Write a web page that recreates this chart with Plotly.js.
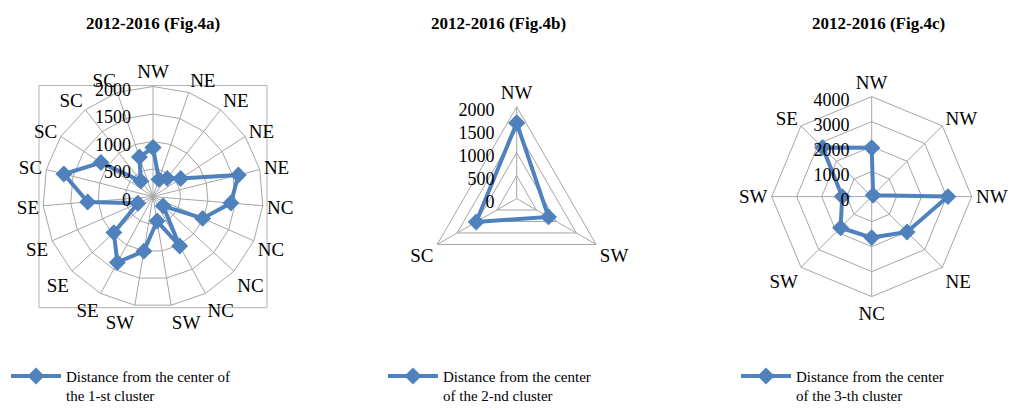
<!DOCTYPE html>
<html><head><meta charset="utf-8">
<script src="https://cdn.plot.ly/plotly-3.0.1.min.js"></script>
<style>html,body{margin:0;padding:0;background:#fff}#chart{width:1012px;height:412px}</style>
</head><body><div id="chart"></div>
<script>
// ---- data ----
const labelsA = ['NW','NE','NE','NE','NE','NC','NC','NC','NC','SW','SW','SE','SE','SE','SE','SC','SC','SC','SC'];
const valuesA = [890,330,420,600,1600,1420,985,250,1020,450,1005,1360,966,300,1190,1670,1130,360,760];
const labelsB = ['NW','SW','SC'];
const valuesB = [1650,800,1020];
const labelsC = ['NW','NW','NW','NE','NC','SW','SW','SE'];
const valuesC = [1950,80,3050,2000,1640,1760,1180,2780];
const titles = ['2012-2016 (Fig.4a)','2012-2016 (Fig.4b)','2012-2016 (Fig.4c)'];
const seriesNames = ['Distance from the center of<br>the 1-st cluster',
                     'Distance from the center<br>of the 2-nd cluster',
                     'Distance from the center<br>of the 3-th cluster'];
const radialMax = [2000, 2000, 4000];
const radialStep = [500, 500, 1000];

// ---- style ----
const BLUE = '#4F81BD';
const GRID = '#a6a6a6';
const SERIF = 'Liberation Serif, Times New Roman, serif';
const W = 1012, H = 412;

// unique category ids (labels repeat), shown with their label text
function cats(labels){ return labels.map((l, i) => l + '_' + i); }

function trace(labels, values, sub, leg, name){
  const c = cats(labels);
  return {
    type: 'scatterpolar', subplot: sub, legend: leg, name: name,
    r: values.concat([values[0]]), theta: c.concat([c[0]]),
    mode: 'lines+markers',
    line: {color: BLUE, width: 4},
    marker: {symbol: 'diamond', size: 13, color: BLUE},
    hoverinfo: 'skip', showlegend: true
  };
}

function polar(cx, cy, rad, labels, rmax, dtick){
  const c = cats(labels);
  return {
    domain: {x: [(cx - rad) / W, (cx + rad) / W], y: [1 - (cy + rad) / H, 1 - (cy - rad) / H]},
    gridshape: 'linear',
    bgcolor: 'rgba(0,0,0,0)',
    radialaxis: {
      range: [0, rmax], dtick: dtick, tick0: 0, angle: 90, side: 'counterclockwise',
      showline: false, ticks: '', gridcolor: GRID, gridwidth: 1, ticksuffix: '\u2002',
      tickfont: {family: SERIF, size: 18, color: '#000'}
    },
    angularaxis: {
      type: 'category', categoryorder: 'array', categoryarray: c,
      direction: 'clockwise', rotation: 90,
      tickmode: 'array', tickvals: c, ticktext: labels,
      showline: true, linecolor: GRID, linewidth: 1, gridcolor: GRID, gridwidth: 1, ticks: '',
      tickfont: {family: SERIF, size: 19, color: '#000'}
    }
  };
}

function legend(xpx){
  return {
    x: xpx / W, y: 1 - 366 / H, xanchor: 'left', yanchor: 'top', valign: 'top',
    bgcolor: 'rgba(0,0,0,0)', font: {family: SERIF, size: 15, color: '#000'},
    itemwidth: 50, tracegroupgap: 0
  };
}

const data = [
  trace(labelsA, valuesA, 'polar', 'legend', seriesNames[0]),
  trace(labelsB, valuesB, 'polar2', 'legend2', seriesNames[1]),
  trace(labelsC, valuesC, 'polar3', 'legend3', seriesNames[2])
];

const titleX = [153, 498, 878];
const layout = {
  width: W, height: H,
  margin: {l: 0, r: 0, t: 0, b: 0},
  paper_bgcolor: '#fff',
  showlegend: true,
  polar: polar(153, 200, 112, labelsA, radialMax[0], radialStep[0]),
  polar2: polar(516.7, 202, 93.3, labelsB, radialMax[1], radialStep[1]),
  polar3: polar(871.7, 200, 101.7, labelsC, radialMax[2], radialStep[2]),
  legend: legend(6),
  legend2: legend(383),
  legend3: legend(736),
  annotations: titles.map((t, i) => ({
    text: '<b>' + t + '</b>', xref: 'paper', yref: 'paper',
    x: titleX[i] / W, y: 1 - 24 / H, xanchor: 'center', yanchor: 'middle',
    showarrow: false, font: {family: SERIF, size: 17, color: '#000'}
  })),
  shapes: [{type: 'rect', xref: 'paper', yref: 'paper',
    x0: 39 / W, x1: 267 / W, y0: 1 - 313 / H, y1: 1 - 87 / H,
    line: {color: '#b3b3b3', width: 1}, layer: 'below'}]
};

Plotly.newPlot('chart', data, layout, {displayModeBar: false, staticPlot: true});
</script></body></html>
